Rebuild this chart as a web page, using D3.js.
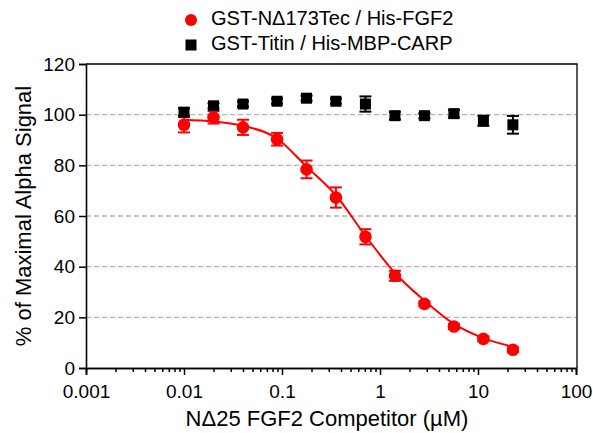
<!DOCTYPE html>
<html>
<head>
<meta charset="utf-8">
<script src="https://cdn.jsdelivr.net/npm/d3@7"></script>
<style>
    body { margin: 0; background: #fff; }
    svg { display: block; font-family: "Liberation Sans", Arial, sans-serif; }
</style>
</head>
<body>
<svg id="chart" width="593" height="433"></svg>
<script>
//////////////////// DATA ////////////////////
// concentrations (uM)
const concentrations = [0.01, 0.02, 0.04, 0.089, 0.178, 0.355, 0.71, 1.42, 2.84, 5.68, 11.35, 22.7];

// GST-NΔ173Tec / His-FGF2
const fgfValues = [96, 99, 95, 90.3, 78.4, 67.3, 51.8, 36.4, 25.3, 16.4, 11.5, 7.2];
const fgfErrors = [3, 2.5, 3, 2.5, 3.5, 4, 3, 2, 1, 1, 1, 1];

// GST-Titin / His-MBP-CARP
const titinValues = [101, 103.5, 104.2, 105.3, 106.5, 105.3, 104.2, 99.6, 99.6, 100.4, 97.6, 96];
const titinErrors = [1.5, 1, 1, 1, 1, 1, 3, 1.5, 1, 1.5, 2, 3.5];

// fitted curve
const fitX = [0.01, 0.02, 0.04, 0.089, 0.178, 0.355, 0.71, 1.42, 2.84, 5.68, 11.35, 22.7];
const fitY = [98.0, 97.3, 95.6, 90.6, 79.5, 68.2, 52.2, 37.5, 26.6, 17.4, 11.8, 8.4];

// ticks
const xTicks = [0.001, 0.01, 0.1, 1, 10, 100];
const xTickLabels = ["0.001", "0.01", "0.1", "1", "10", "100"];
const yTicks = [0, 20, 40, 60, 80, 100, 120];
const gridValues = [20, 40, 60, 80, 100];

const legendLabels = ["GST-N\u0394173Tec / His-FGF2", "GST-Titin / His-MBP-CARP"];

//////////////////// SIZES ////////////////////
const svg = d3.select("#chart");
const plot = { left: 86, right: 576, top: 64, bottom: 368 };
const red = "#ff0000";
const fontFamily = "Liberation Sans, Arial, sans-serif";

//////////////////// SCALES ////////////////////
const scaleX = d3.scaleLog().domain([0.001, 100]).range([plot.left, plot.right]);
const scaleY = d3.scaleLinear().domain([0, 120]).range([plot.bottom, plot.top]);

//////////////////// GRID ////////////////////
svg.append("g")
    .selectAll("line")
    .data(gridValues)
    .join("line")
    .attr("x1", plot.left)
    .attr("x2", plot.right)
    .attr("y1", d => scaleY(d))
    .attr("y2", d => scaleY(d))
    .attr("stroke", "#b4b4b4")
    .attr("stroke-width", 1.3)
    .attr("stroke-dasharray", "5,3");

// frame top + right
svg.append("path")
    .attr("d", `M${plot.left},${plot.top}H${plot.right + 1}V${plot.bottom}`)
    .attr("fill", "none")
    .attr("stroke", "#000")
    .attr("stroke-width", 1.3);

//////////////////// AXES ////////////////////
// minor ticks for the log axis
const minorTicks = [];
for (let e = -3; e < 2; e++) {
    for (let m = 2; m <= 9; m++) minorTicks.push(m * Math.pow(10, e));
}

const xAxisGroup = svg.append("g")
    .attr("transform", `translate(0, ${plot.bottom})`);

xAxisGroup.call(d3.axisBottom(scaleX)
    .tickValues(minorTicks)
    .tickSize(4)
    .tickFormat(""));

xAxisGroup.append("g").call(d3.axisBottom(scaleX)
    .tickValues(xTicks)
    .tickSize(7)
    .tickPadding(10)
    .tickFormat((d, i) => xTickLabels[i]));

xAxisGroup.selectAll(".domain").attr("stroke-width", 1.6);
xAxisGroup.selectAll(".tick line").attr("stroke-width", 1.5);
xAxisGroup.selectAll("text")
    .attr("font-size", 19)
    .attr("fill", "#000")
    .attr("font-family", fontFamily);

const yAxisGroup = svg.append("g")
    .attr("transform", `translate(${plot.left}, 0)`)
    .call(d3.axisLeft(scaleY).tickValues(yTicks).tickSize(7).tickPadding(4));

yAxisGroup.selectAll(".domain").attr("stroke-width", 1.6);
yAxisGroup.selectAll(".tick line").attr("stroke-width", 1.5);
yAxisGroup.selectAll("text")
    .attr("font-size", 19)
    .attr("fill", "#000")
    .attr("font-family", fontFamily);

//////////////////// AXIS LABELS ////////////////////
svg.append("text")
    .attr("transform", `rotate(-90, 25, ${(plot.top + plot.bottom) / 2})`)
    .attr("x", 25)
    .attr("y", (plot.top + plot.bottom) / 2)
    .attr("text-anchor", "middle")
    .attr("dominant-baseline", "middle")
    .attr("font-size", 22)
    .text("% of Maximal Alpha Signal");

svg.append("text")
    .attr("x", (plot.left + plot.right) / 2 - 4)
    .attr("y", 426)
    .attr("text-anchor", "middle")
    .attr("font-size", 22)
    .text("N\u039425 FGF2 Competitor (\u00b5M)");

//////////////////// FIT CURVE ////////////////////
const fitLine = d3.line()
    .x(d => scaleX(d[0]))
    .y(d => scaleY(d[1]))
    .curve(d3.curveMonotoneX);

svg.append("path")
    .attr("d", fitLine(d3.zip(fitX, fitY)))
    .attr("fill", "none")
    .attr("stroke", red)
    .attr("stroke-width", 2);

//////////////////// ERROR BARS ////////////////////
function drawErrors(values, errors, color) {
    const g = svg.append("g").attr("stroke", color).attr("stroke-width", 2);
    const rows = concentrations.map((c, i) => ({ x: c, y: values[i], e: errors[i] }));
    g.selectAll(".stem").data(rows).join("line")
        .attr("x1", d => scaleX(d.x)).attr("x2", d => scaleX(d.x))
        .attr("y1", d => scaleY(d.y - d.e)).attr("y2", d => scaleY(d.y + d.e));
    g.selectAll(".capTop").data(rows).join("line")
        .attr("x1", d => scaleX(d.x) - 6).attr("x2", d => scaleX(d.x) + 6)
        .attr("y1", d => scaleY(d.y + d.e)).attr("y2", d => scaleY(d.y + d.e));
    g.selectAll(".capBottom").data(rows).join("line")
        .attr("x1", d => scaleX(d.x) - 6).attr("x2", d => scaleX(d.x) + 6)
        .attr("y1", d => scaleY(d.y - d.e)).attr("y2", d => scaleY(d.y - d.e));
}

drawErrors(titinValues, titinErrors, "#000");
drawErrors(fgfValues, fgfErrors, red);

//////////////////// MARKERS ////////////////////
svg.append("g")
    .selectAll("rect")
    .data(concentrations.map((c, i) => [c, titinValues[i]]))
    .join("rect")
    .attr("x", d => scaleX(d[0]) - 5.5)
    .attr("y", d => scaleY(d[1]) - 5.5)
    .attr("width", 11)
    .attr("height", 11)
    .attr("fill", "#000");

svg.append("g")
    .selectAll("circle")
    .data(concentrations.map((c, i) => [c, fgfValues[i]]))
    .join("circle")
    .attr("cx", d => scaleX(d[0]))
    .attr("cy", d => scaleY(d[1]))
    .attr("r", 6.3)
    .attr("fill", red);

//////////////////// LEGEND ////////////////////
const legend = svg.append("g");
legend.append("circle").attr("cx", 191).attr("cy", 20).attr("r", 6).attr("fill", red);
legend.append("rect").attr("x", 185.5).attr("y", 39.5).attr("width", 11).attr("height", 11).attr("fill", "#000");
legend.selectAll("text")
    .data(legendLabels)
    .join("text")
    .attr("x", 211)
    .attr("y", (d, i) => 20 + i * 25)
    .attr("dominant-baseline", "middle")
    .attr("font-size", 20)
    .text(d => d);
</script>
</body>
</html>
